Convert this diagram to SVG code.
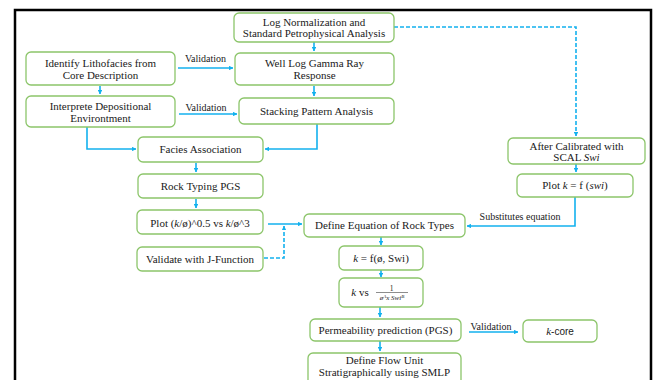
<svg xmlns="http://www.w3.org/2000/svg" width="653" height="380" viewBox="0 0 653 380">
<style>
.n{fill:#fff;stroke:#8cc56a;stroke-width:1.3}
.t{font-family:"Liberation Serif","DejaVu Serif",serif;font-size:11px;fill:#1a1a1a;text-anchor:middle}
.l{font-family:"Liberation Serif","DejaVu Serif",serif;font-size:10px;fill:#1a1a1a;text-anchor:middle}
.c{fill:none;stroke:#13b1ee;stroke-width:1.6}
.d{fill:none;stroke:#13b1ee;stroke-width:1.6;stroke-dasharray:4 2}
.i{font-style:italic}
</style>
<defs>
<marker id="a" viewBox="0 0 6 6" refX="5.5" refY="3" markerWidth="4.5" markerHeight="4.5" orient="auto" markerUnits="userSpaceOnUse">
<path d="M0,0 L6,3 L0,6 Z" fill="#13b1ee"/>
</marker>
</defs>
<rect x="0" y="0" width="653" height="380" fill="#fff"/>
<rect x="15" y="10" width="636" height="400" fill="none" stroke="#000" stroke-width="2.5"/>

<g id="connectors">
<path class="c" d="M314,42 V51" marker-end="url(#a)"/>
<path class="d" d="M394,27 H576 V136" marker-end="url(#a)"/>
<path class="c" d="M178,68 H233" marker-end="url(#a)"/>
<path class="c" d="M100,86 V94" marker-end="url(#a)"/>
<path class="c" d="M314,86 V96" marker-end="url(#a)"/>
<path class="c" d="M179,114 H237" marker-end="url(#a)"/>
<path class="c" d="M87,127 V149 H136" marker-end="url(#a)"/>
<path class="c" d="M317,124 V149 H265" marker-end="url(#a)"/>
<path class="c" d="M196,163 V172" marker-end="url(#a)"/>
<path class="c" d="M196,199 V208" marker-end="url(#a)"/>
<path class="c" d="M268,224 H302" marker-end="url(#a)"/>
<path class="d" d="M264,258 H284 V226" marker-end="url(#a)"/>
<path class="c" d="M576,164 V172" marker-end="url(#a)"/>
<path class="c" d="M575,197 V226 H467" marker-end="url(#a)"/>
<path class="c" d="M381,237 V245" marker-end="url(#a)"/>
<path class="c" d="M381,270 V277" marker-end="url(#a)"/>
<path class="c" d="M380,307 V317" marker-end="url(#a)"/>
<path class="c" d="M469,332 H518" marker-end="url(#a)"/>
<path class="c" d="M380,341 V351" marker-end="url(#a)"/>
<text class="l" x="205.5" y="61.5">Validation</text>
<text class="l" x="206" y="110.5">Validation</text>
<text class="l" x="491" y="330">Validation</text>
<text class="l" x="520" y="220">Substitutes equation</text>
</g>

<g id="logNorm"><rect class="n" x="234" y="13" width="160" height="29" rx="5"/>
<text class="t" x="314" y="25.5">Log Normalization and</text>
<text class="t" x="314" y="37">Standard Petrophysical Analysis</text></g>

<g id="identify"><rect class="n" x="26" y="52" width="149" height="33" rx="5"/>
<text class="t" x="100.5" y="66.5">Identify Lithofacies from</text>
<text class="t" x="100.5" y="78.5">Core Description</text></g>

<g id="wellLog"><rect class="n" x="235" y="53" width="159" height="32" rx="5"/>
<text class="t" x="314.5" y="66.5">Well Log Gamma Ray</text>
<text class="t" x="314.5" y="78.5">Response</text></g>

<g id="interprete"><rect class="n" x="26" y="96" width="149" height="31" rx="5"/>
<text class="t" x="100.5" y="109.5">Interprete Depositional</text>
<text class="t" x="100.5" y="121.5">Environtment</text></g>

<g id="stacking"><rect class="n" x="239" y="98" width="155" height="26" rx="5"/>
<text class="t" x="316.5" y="115">Stacking Pattern Analysis</text></g>

<g id="facies"><rect class="n" x="138" y="137" width="125" height="25" rx="5"/>
<text class="t" x="200.5" y="152.5">Facies Association</text></g>

<g id="rockTyping"><rect class="n" x="138" y="174" width="125" height="24" rx="5"/>
<text class="t" x="200.5" y="189.5">Rock Typing PGS</text></g>

<g id="plotK"><rect class="n" x="137" y="210" width="126" height="24" rx="5"/>
<text class="t" x="200" y="226.5">Plot (<tspan class="i">k</tspan>/ø)^0.5 vs <tspan class="i">k</tspan>/ø^3</text></g>

<g id="validateJ"><rect class="n" x="137" y="247" width="126" height="24" rx="5"/>
<text class="t" x="200" y="262.5">Validate with J-Function</text></g>

<g id="defineEq"><rect class="n" x="304" y="214" width="161" height="23" rx="5"/>
<text class="t" x="384.5" y="228.5">Define Equation of Rock Types</text></g>

<g id="kf"><rect class="n" x="339" y="246" width="84" height="24" rx="5"/>
<text class="t" x="381" y="261.5"><tspan class="i">k</tspan> = f(ø, Swi)</text></g>

<g id="kvs"><rect class="n" x="339" y="278" width="84" height="29" rx="5"/>
<text class="t" x="360" y="296"><tspan class="i">k</tspan> vs</text>
<text class="t" x="391.5" y="290.5" style="font-size:7.5px">1</text>
<line x1="376" y1="292.5" x2="408" y2="292.5" stroke="#1a1a1a" stroke-width="0.5"/>
<text class="t i" x="392" y="300" style="font-size:7px">ø<tspan dy="-2.5" style="font-size:5px">A</tspan><tspan dy="2.5">x Swi</tspan><tspan dy="-2.5" style="font-size:5px">B</tspan></text></g>

<g id="perm"><rect class="n" x="310" y="319" width="151" height="22" rx="5"/>
<text class="t" x="385.5" y="334">Permeability prediction (PGS)</text></g>

<g id="kcore"><rect class="n" x="523" y="320" width="74" height="22" rx="5"/>
<text class="t" x="560" y="334.5"><tspan class="i">k</tspan><tspan style="font-family:'Liberation Sans',Arial,sans-serif;font-size:10px">-core</tspan></text></g>

<g id="flowUnit"><rect class="n" x="308" y="353" width="153" height="34" rx="5"/>
<text class="t" x="384.5" y="363.5">Define Flow Unit</text>
<text class="t" x="384.5" y="376">Stratigraphically using SMLP</text></g>

<g id="afterCal"><rect class="n" x="508" y="138" width="137" height="26" rx="5"/>
<text class="t" x="576.5" y="149.5">After Calibrated with</text>
<text class="t" x="576.5" y="161">SCAL <tspan class="i">Swi</tspan></text></g>

<g id="plotKswi"><rect class="n" x="517" y="174" width="116" height="23" rx="5"/>
<text class="t" x="575" y="189">Plot <tspan class="i">k</tspan> = f (<tspan class="i">swi</tspan>)</text></g>
</svg>
